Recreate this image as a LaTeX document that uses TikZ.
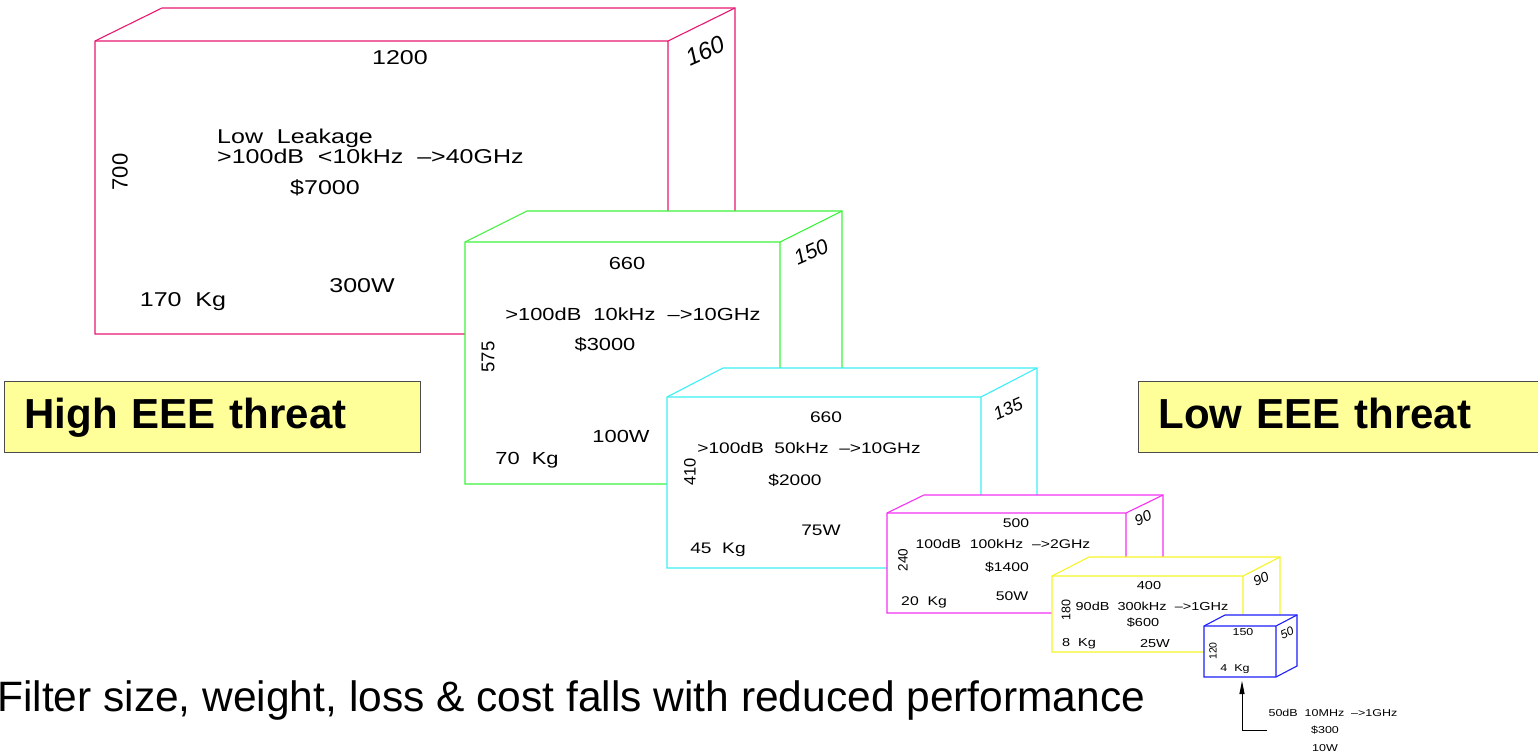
\documentclass[tikz,border=0pt]{standalone}
\usepackage{fontspec}
\setmainfont{Liberation Sans}
\newfontfamily\cadfont[FakeStretch=1.25]{Liberation Sans}
\usepackage{tikz}
\usetikzlibrary{positioning,arrows.meta}

\definecolor{crim}{RGB}{232,24,112}
\definecolor{lime}{RGB}{60,245,60}
\definecolor{aqua}{RGB}{60,240,245}
\definecolor{mage}{RGB}{245,50,245}
\definecolor{yell}{RGB}{245,245,40}
\definecolor{blu}{RGB}{30,30,250}
\definecolor{pale}{RGB}{255,255,153}

\begin{document}
\begin{tikzpicture}[x=1pt,y=1pt,
    upright/.style={rotate=90,font=\fontsize{#1}{#1}\selectfont},
    depth/.style={rotate=24,font=\fontsize{#1}{#1}\selectfont\itshape}]
    \tikzstyle{every node}=[inner sep=0]
    \tikzstyle{edge}=[line width=1.1pt,line join=miter]
    \tikzstyle{tbig}=[font=\cadfont\fontsize{20}{20}\selectfont]
    \tikzstyle{tlarge}=[font=\cadfont\fontsize{17.5}{17.5}\selectfont]
    \tikzstyle{tmid}=[font=\cadfont\fontsize{15.3}{15.3}\selectfont]
    \tikzstyle{tsmall}=[font=\cadfont\fontsize{12.6}{12.6}\selectfont]
    \tikzstyle{ttiny}=[font=\cadfont\fontsize{11.6}{11.6}\selectfont]
    \tikzstyle{tmini}=[font=\cadfont\fontsize{10}{10}\selectfont]
    \tikzstyle{threat}=[draw=black!70,fill=pale,line width=0.8pt,minimum height=71,
        text height=30,text depth=7,
        font=\fontsize{42}{42}\selectfont\bfseries,align=left,anchor=north west]
    \useasboundingbox (0,0) rectangle (1538,-755);

    % 1200 x 700 x 160
    \draw[edge,crim,fill=white] (95,-334) -- (95,-41) -- (162,-8) -- (735,-8) -- (735,-301) -- (668,-334) -- cycle;
    \draw[edge,crim] (95,-41) -- (668,-41) -- (735,-8) (668,-41) -- (668,-334);
    \node[tbig] (wa) at (400,-58) {1200};
    \node[depth=24] (da) at (705,-51) {160};
    \node[upright=22] (ha) at (120,-172) {700};
    \node[tbig,anchor=base west] (leak) at (217,-143) {Low~ Leakage};
    \node[tbig,anchor=base west] (ra) at (217,-163) {>100dB~~<10kHz~~\textendash>40GHz};
    \node[tbig] (ca) at (325,-188) {\$7000};
    \node[tbig] (pa) at (362,-286) {300W};
    \node[tbig] (ma) at (183,-302) {170~~Kg};

    % 660 x 575 x 150
    \draw[edge,lime,fill=white] (465,-484) -- (465,-242) -- (527,-211) -- (842,-211) -- (842,-453) -- (780,-484) -- cycle;
    \draw[edge,lime] (465,-242) -- (780,-242) -- (842,-211) (780,-242) -- (780,-484);
    \node[tlarge] (wb) at (627,-263) {660};
    \node[depth=21] (db) at (811,-252) {150};
    \node[upright=18.5] (hb) at (488,-357) {575};
    \node[tlarge] (rb) at (633,-314) {>100dB~~10kHz~~\textendash>10GHz};
    \node[tlarge] (cb) at (605,-345) {\$3000};
    \node[tlarge] (pb) at (621,-436) {100W};
    \node[tlarge] (mb) at (527,-460) {70~~Kg};

    % 660 x 410 x 135
    \draw[edge,aqua,fill=white] (667,-568) -- (667,-397) -- (723,-368) -- (1037,-368) -- (1037,-539) -- (981,-568) -- cycle;
    \draw[edge,aqua] (667,-397) -- (981,-397) -- (1037,-368) (981,-397) -- (981,-568);
    \node[tmid] (wc) at (826,-417) {660};
    \node[depth=18] (dc) at (1008,-409) {135};
    \node[upright=16.5] (hc) at (690,-472) {410};
    \node[tmid] (rc) at (809,-448) {>100dB~~50kHz~~\textendash>10GHz};
    \node[tmid] (cc) at (795,-480) {\$2000};
    \node[tmid] (pc) at (821,-530) {75W};
    \node[tmid] (mc) at (718,-550) {45~~Kg};

    % 500 x 240 x 90
    \draw[edge,mage,fill=white] (887,-613) -- (887,-513) -- (924,-495) -- (1163,-495) -- (1163,-595) -- (1126,-613) -- cycle;
    \draw[edge,mage] (887,-513) -- (1126,-513) -- (1163,-495) (1126,-513) -- (1126,-613);
    \node[tsmall] (wd) at (1016,-523) {500};
    \node[depth=15] (dd) at (1143,-518) {90};
    \node[upright=13.5] (hd) at (903,-560) {240};
    \node[tsmall] (rd) at (1003,-544) {100dB~~100kHz~~\textendash>2GHz};
    \node[tsmall] (cd) at (1007,-567) {\$1400};
    \node[tsmall] (pd) at (1012,-596) {50W};
    \node[tsmall] (md) at (924,-602) {20~~Kg};

    % 400 x 180 x 90
    \draw[edge,yell,fill=white] (1052,-652) -- (1052,-576) -- (1089,-557) -- (1280,-557) -- (1280,-633) -- (1243,-652) -- cycle;
    \draw[edge,yell] (1052,-576) -- (1243,-576) -- (1280,-557) (1243,-576) -- (1243,-652);
    \node[ttiny] (we) at (1149,-585) {400};
    \node[depth=14] (de) at (1261,-579) {90};
    \node[upright=12.5] (he) at (1066,-610) {180};
    \node[ttiny] (re) at (1152,-606) {90dB~~300kHz~~\textendash>1GHz};
    \node[ttiny] (ce) at (1143,-623) {\$600};
    \node[ttiny] (pe) at (1155,-643) {25W};
    \node[ttiny] (me) at (1079,-644) {8~~Kg};

    % 150 x 120 x 50
    \draw[edge,blu,fill=white] (1204,-677) -- (1204,-626) -- (1225,-615) -- (1297,-615) -- (1297,-666) -- (1276,-677) -- cycle;
    \draw[edge,blu] (1204,-626) -- (1276,-626) -- (1297,-615) (1276,-626) -- (1276,-677);
    \node[tmini] (wf) at (1243,-632) {150};
    \node[depth=12] (df) at (1287,-633) {50};
    \node[upright=10.5] (hf) at (1213,-651) {120};
    \node[tmini] (mf) at (1235,-669) {4~~Kg};

    \node[tmini] (rf) at (1333,-713) {50dB~~10MHz~~\textendash>1GHz};
    \node[tmini] (cf) at (1325,-730) {\$300};
    \node[tmini] (pf) at (1325,-748) {10W};
    \coordinate (tail) at (1267,-730);
    \coordinate (tip) at (1242,-681);
    \draw[line width=0.9pt,-{Triangle[length=13pt,width=5pt]}] (tail) -| (tip);

    % threat labels
    \node[threat,minimum width=416,text width=376,inner xsep=20] (high) at (4,-381) {High EEE threat};
    \node[threat,minimum width=400,text width=360,inner xsep=20] (low) at (1138,-381) {Low EEE threat};

    \node[font=\fontsize{42.5}{42.5}\selectfont,anchor=base west] (caption) at (-3,-711)
        {Filter size, weight, loss \& cost falls with reduced performance};
\end{tikzpicture}
\end{document}
